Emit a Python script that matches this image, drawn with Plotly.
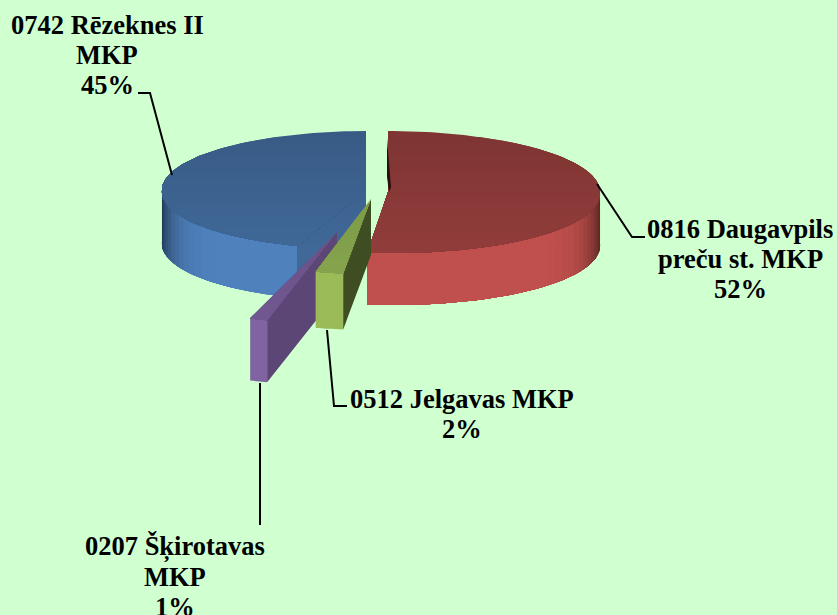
import math
import plotly.graph_objects as go

# ---- data ----
names = ["0816 Daugavpils<br>preču st. MKP", "0512 Jelgavas MKP", "0207 Šķirotavas<br>MKP", "0742 Rēzeknes II<br>MKP"]
values = [52, 2, 1, 45]

# ---- 3D look of each slice (style, not data) ----
slice_geometry = [
    dict(cx=388, cy=192, a=212, b=61, depth=52, shear=0.10),
    dict(cx=371, cy=199, a=222, b=75, depth=56, shear=0.0),
    dict(cx=337, cy=232, a=281, b=91, depth=62, shear=0.0),
    dict(cx=366, cy=190, a=204, b=59, depth=52, shear=-0.10),
]
wall_rgb = [(192, 80, 77), (155, 187, 89), (128, 100, 162), (79, 129, 189)]
top_rgb = [(136, 57, 55), (125, 154, 72), (106, 82, 136), (60, 98, 143)]
side_rgb = [None, (63, 77, 34), (92, 70, 118), None]  # None: shaded like the top
draw_order = [3, 0, 2, 1]
start_wall = [False, True, True, True]
label_x = [740, 462, 175, 107]
label_y = [229, 399, 547, 25]
line_step = 30
leaders_x = [[597, 632, 645], [327, 334, 347], [260, 260], [138, 150, 172]]
leaders_y = [[184, 237, 237], [330, 406, 406], [383, 525], [93, 93, 175]]
BG = "#D0FFD0"

fig = go.Figure()


def shade(rgb, k):
    return "rgb(%d,%d,%d)" % tuple(min(255, max(0, round(c * k))) for c in rgb)


def point(g, deg, drop=0):
    t = math.radians(deg)
    y = g["cy"] - g["b"] * math.cos(t)
    x = g["cx"] + g["a"] * math.sin(t) + g["shear"] * max(0, y - g["cy"])
    return x, y + drop


def poly(pts, color, edge=0.0):
    fig.add_trace(go.Scatter(
        x=[p[0] for p in pts] + [pts[0][0]], y=[p[1] for p in pts] + [pts[0][1]],
        mode="lines", fill="toself", fillcolor=color,
        line=dict(color=color, width=edge), hoverinfo="skip", showlegend=False))


def arc(g, d0, d1, drop=0, step=1.5):
    n = max(2, int(abs(d1 - d0) / step) + 1)
    return [point(g, d0 + (d1 - d0) * m / n, drop) for m in range(n + 1)]


def clip_below(pts, ylim):
    out = []
    for p, q in zip(pts, pts[1:] + pts[:1]):
        if p[1] >= ylim:
            out.append(p)
        if (p[1] - ylim) * (q[1] - ylim) < 0:
            t = (ylim - p[1]) / (q[1] - p[1])
            out.append((p[0] + t * (q[0] - p[0]), ylim))
    return out


def gradient_poly(pts, rgb, g):
    """Paint pts in overlapping bands that get lighter downwards."""
    ys = [p[1] for p in pts]
    y = min(ys)
    first = True
    while y < max(ys):
        part = pts if first else clip_below(pts, y)
        first = False
        if len(part) >= 3:
            r = max(-1.0, min(1.0, (y - g["cy"]) / g["b"]))
            poly(part, shade(rgb, 1 + 0.07 * r))
        y += 6


starts = []
acc = 0
for v in values:
    starts.append(acc)
    acc += v
total = float(acc)

for i in draw_order:
    g = slice_geometry[i]
    a0 = starts[i] / total * 360
    a1 = (starts[i] + values[i]) / total * 360
    apex = (g["cx"], g["cy"])
    apex_low = (g["cx"], g["cy"] + g["depth"])
    # outer wall: overlapping strips, painted in turn, so no seams show
    lo, hi = max(a0, 84), min(a1, 276)
    n = max(1, int((hi - lo) / 3))
    for k in range(n):
        d0 = lo + (hi - lo) * k / n
        d1 = lo + (hi - lo) * (k + 1) / n
        s = abs(math.sin(math.radians((d0 + d1) / 2)))
        f = 1 - 0.55 * s ** 14
        poly(arc(g, d0, hi) + arc(g, hi, d0, g["depth"]), shade(wall_rgb[i], f))
    # cut face
    if start_wall[i]:
        face = [apex, point(g, a0), point(g, a0, g["depth"]), apex_low]
        if side_rgb[i] is None:
            gradient_poly(face, top_rgb[i], g)
        else:
            poly(face, shade(side_rgb[i], 1))
    # top surface, lighter towards the front
    gradient_poly([apex] + arc(g, a0, a1), top_rgb[i], g)

# the small dark notch at the start of the first slice
g0 = slice_geometry[0]
poly([(g0["cx"] - 1, g0["cy"] - g0["b"] * 0.88), (g0["cx"] + 3, g0["cy"] - 5), (g0["cx"] + 1, g0["cy"]),
      (g0["cx"] - 1, g0["cy"] - 15)], "#2a0f0e")

for xs, ys in zip(leaders_x, leaders_y):
    fig.add_trace(go.Scatter(x=xs, y=ys, mode="lines", line=dict(color="black", width=2),
                             hoverinfo="skip", showlegend=False))

for name, v, x, y in zip(names, values, label_x, label_y):
    for j, part in enumerate(name.split("<br>") + [f"{v}%"]):
        fig.add_annotation(x=x, y=y + j * line_step, xref="x", yref="y", text=f"<b>{part}</b>",
                           showarrow=False, align="center", xanchor="center", yanchor="middle",
                           font=dict(family="Liberation Serif", size=26.5, color="black"))

fig.update_layout(
    width=837, height=615, margin=dict(l=0, r=0, t=0, b=0),
    paper_bgcolor=BG, plot_bgcolor=BG, showlegend=False,
    xaxis=dict(range=[0, 837], visible=False, fixedrange=True),
    yaxis=dict(range=[615, 0], visible=False, fixedrange=True),
)
fig.write_html("out.html", config=dict(displayModeBar=False),
               post_script="document.body.style.margin='0';document.body.style.background='%s';" % BG)
